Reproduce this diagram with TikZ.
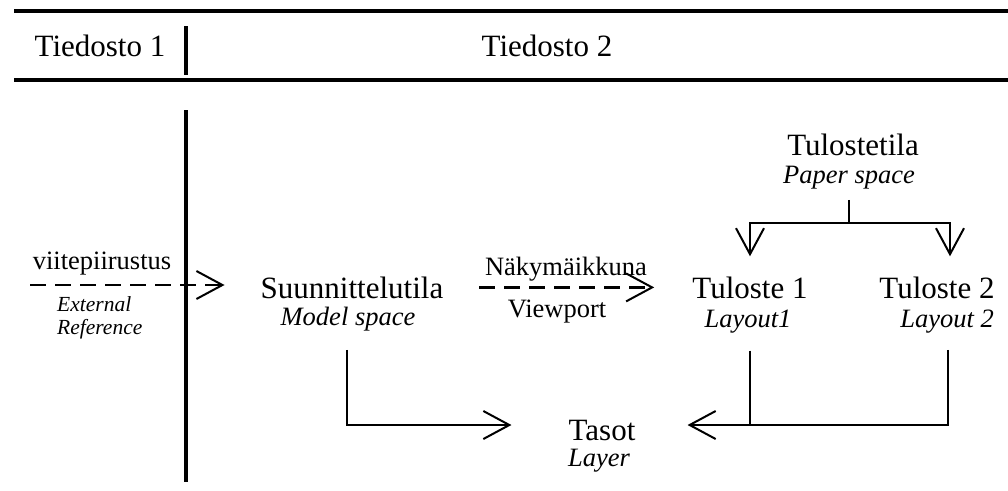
\documentclass[tikz,border=0pt]{standalone}
\usepackage{fontspec}
\setmainfont{Liberation Serif}
\usetikzlibrary{arrows.meta}

\tikzset{
	big/.style={font=\fontsize{31}{37}\selectfont, inner sep=0pt, anchor=base},
	sub/.style={font=\fontsize{26.5}{31}\selectfont\itshape, inner sep=0pt, anchor=base},
	tree/.style={line width=2pt},
	link/.style={tree, -{Straight Barb[length=26pt,width=28pt,line width=2pt]}},
	dashlink/.style={link, line width=2.6pt, dash pattern=on 16pt off 9pt}
}

\begin{document}
\begin{tikzpicture}[x=1pt,y=-1pt]
	\useasboundingbox (0,0) rectangle (1008,490);

	% header
	\draw [line width=4pt] (14,11) -- (1008,11);
	\draw [line width=3.5pt] (14,80) -- (1008,80);
	\node [big] (file1) at (100,56) {Tiedosto 1};
	\node [big] (file2) at (547,56) {Tiedosto 2};
	\draw [line width=3.5pt] (186,26) -- (186,75);

	% border between the files
	\draw [line width=3.3pt] (186,110) -- (186,482);

	% spaces
	\node [big, font=\fontsize{26.5}{31}\selectfont] (xref) at (102,269) {viitepiirustus};
	\node [sub, font=\fontsize{21.5}{23}\selectfont\itshape, anchor=north west, align=left] (xrefsub) at (57,296) {External\\Reference};
	\node [big] (model) at (352,298) {Suunnittelutila};
	\node [sub] (modelsub) at (348,325) {Model space};
	\node [big, font=\fontsize{26.5}{31}\selectfont] (vport) at (566,275) {Näkymäikkuna};
	\node [sub, font=\fontsize{26.5}{31}\selectfont] (vportsub) at (557,317) {Viewport};
	\node [big] (paper) at (853,155) {Tulostetila};
	\node [sub] (papersub) at (849,183) {Paper space};
	\node [big] (lay1) at (750,298) {Tuloste 1};
	\node [sub] (lay1sub) at (748,327) {Layout1};
	\node [big] (lay2) at (937,298) {Tuloste 2};
	\node [sub] (lay2sub) at (947,327) {Layout 2};
	\node [big] (layer) at (602,440) {Tasot};
	\node [sub] (layersub) at (599,466) {Layer};

	% references
	\coordinate (xin) at (30,285);
	\draw [dashlink] (xin) -- ([xshift=-36pt]model.west |- xin);
	\draw [dashlink] ([xshift=36pt]model.east) -- ([xshift=-38pt]lay1.west);

	% paper space to layouts
	\draw [tree] ([yshift=-11pt]papersub.south) -- ++(0,23) coordinate (fork);
	\draw [link] (fork) -| ([yshift=20pt]lay1.north);
	\draw [link] (fork) -| ([xshift=13pt,yshift=20pt]lay2.north);

	% layers
	\coordinate (merge) at ([yshift=5pt]layer.west);
	\coordinate (lay1top) at ([yshift=-52pt]lay1.south);
	\draw [link] ([xshift=-1pt,yshift=-19pt]modelsub.south) |- ([xshift=-57pt]merge);
	\draw [link] ([xshift=1pt,yshift=-17pt]lay2sub.south) |- ([xshift=52pt]merge -| layer.east);
	\draw [tree] (lay1top) -- (lay1top |- merge);

\end{tikzpicture}
\end{document}
